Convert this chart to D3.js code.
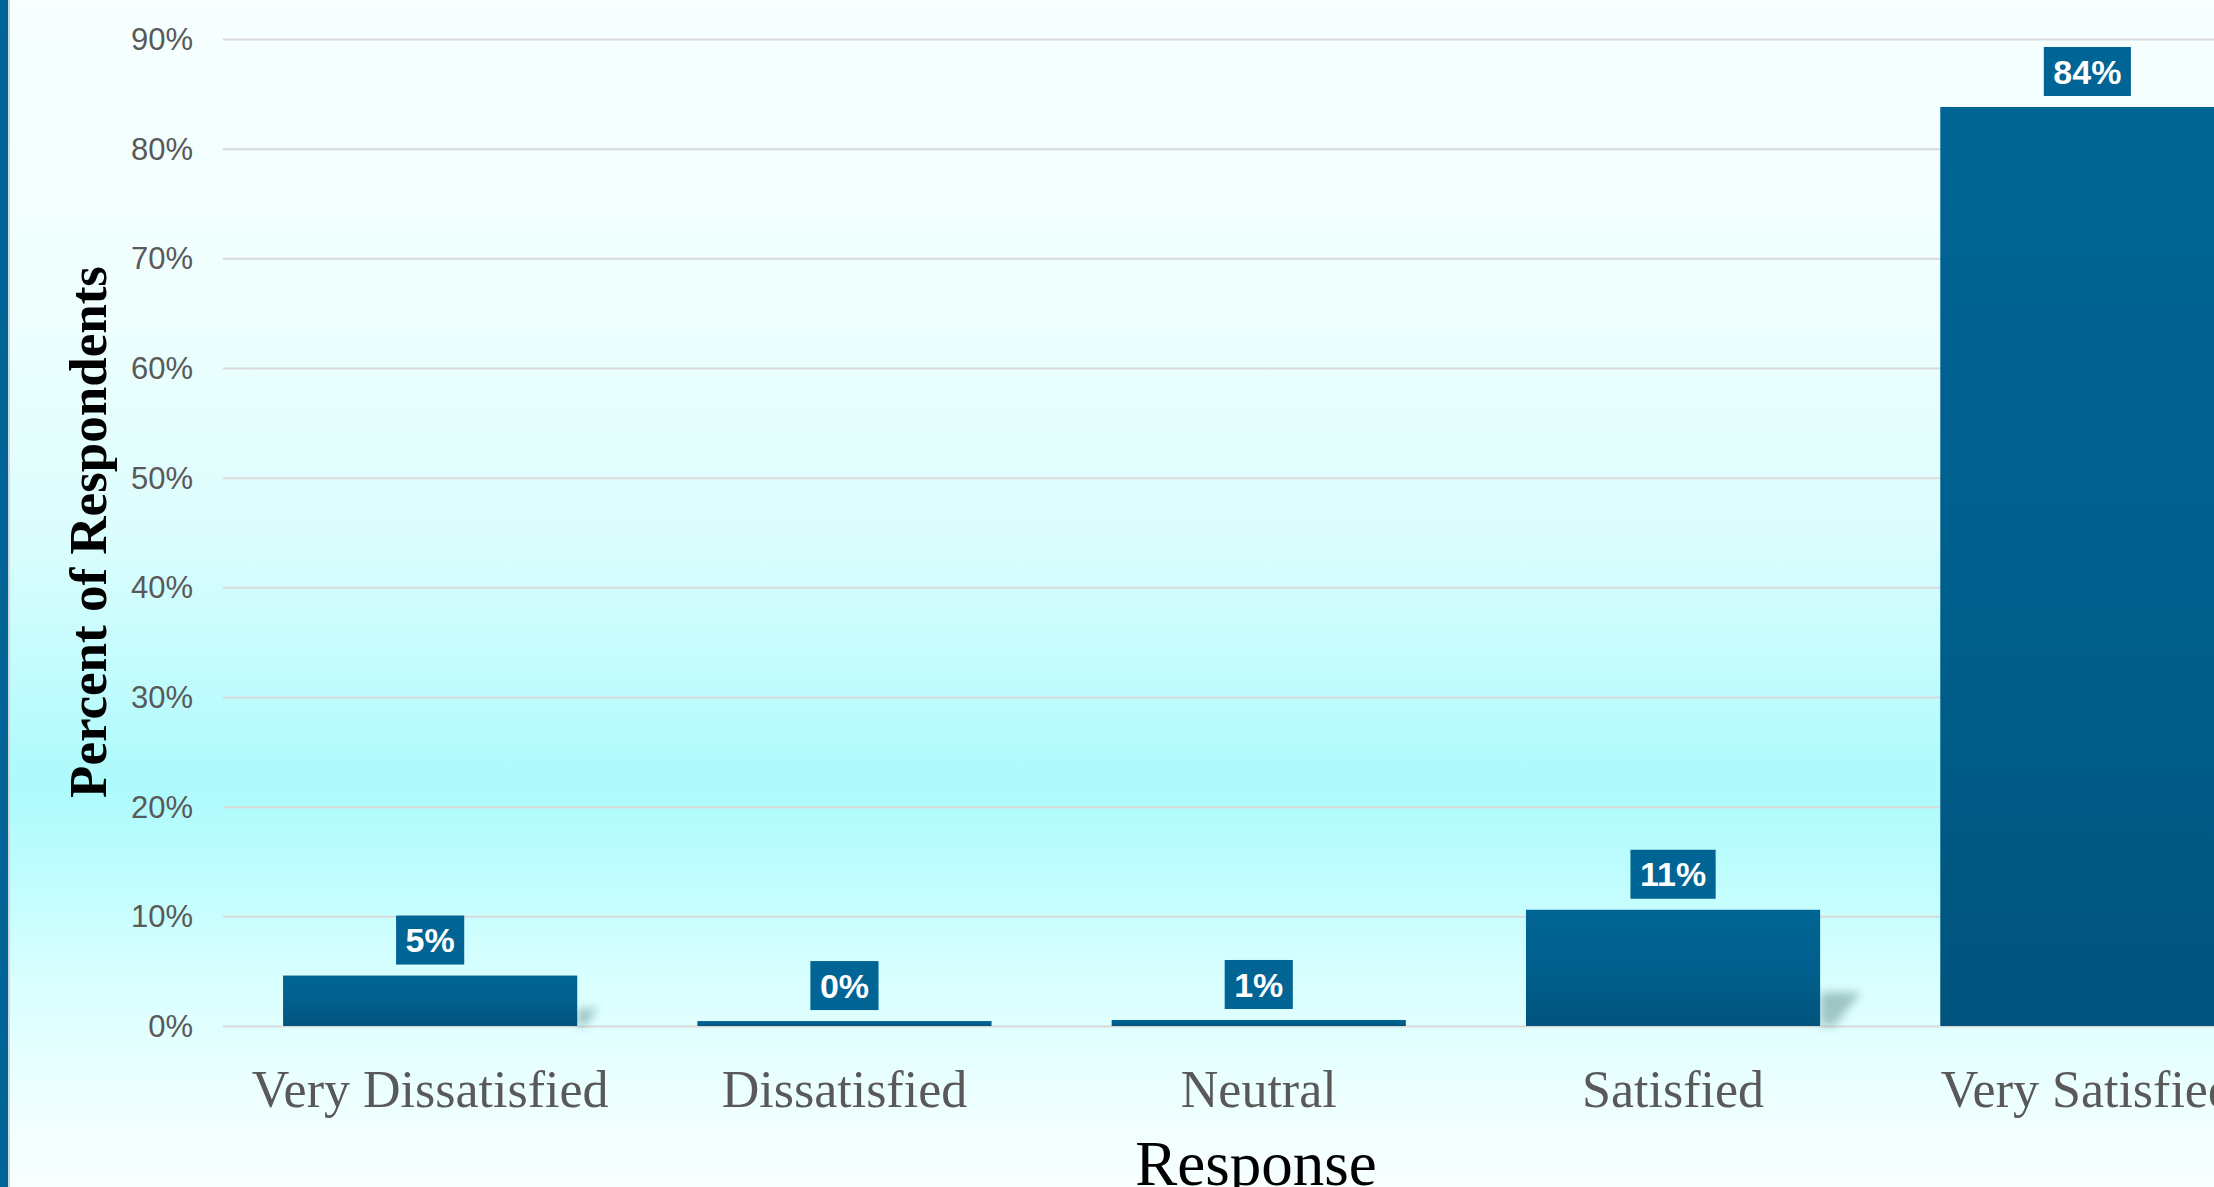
<!DOCTYPE html>
<html>
<head>
<meta charset="utf-8">
<script src="https://cdn.jsdelivr.net/npm/d3@7"></script>
<style>
  html, body { margin: 0; padding: 0; overflow: hidden; background: #f7ffff; }
  svg { display: block; }
</style>
</head>
<body>
<svg id="chart"></svg>
<script>
// Survey results: share of respondents per satisfaction level
const categories = ["Very Dissatisfied", "Dissatisfied", "Neutral", "Satisfied", "Very Satisfied"];
const percents = [4.6, 0.45, 0.55, 10.6, 83.8];
const yTicks = [0, 10, 20, 30, 40, 50, 60, 70, 80, 90];
const yTitle = "Percent of Respondents";
const xTitle = "Response";

const W = 2214, H = 1187;
const svg = d3.select("#chart").attr("width", W).attr("height", H);
const defs = svg.append("defs");

// background wash
const bg = defs.append("linearGradient").attr("id", "bgGrad")
  .attr("x1", 0).attr("y1", 0).attr("x2", 0).attr("y2", 1);
[[0, "#f7ffff"], [0.25, "#effffe"], [0.45, "#dcfdfd"], [0.56, "#c4fcfd"], [0.66, "#adfafc"],
 [0.74, "#c0fdfe"], [0.82, "#d8ffff"], [0.9, "#e8ffff"], [0.96, "#f3ffff"], [1, "#f8ffff"]]
  .forEach(([o, c]) => bg.append("stop").attr("offset", o).attr("stop-color", c));

// bar fill
const barGrad = defs.append("linearGradient").attr("id", "barGrad")
  .attr("x1", 0).attr("y1", 0).attr("x2", 0).attr("y2", 1);
barGrad.append("stop").attr("offset", 0).attr("stop-color", "#006494");
barGrad.append("stop").attr("offset", 0.55).attr("stop-color", "#005f8c");
barGrad.append("stop").attr("offset", 1).attr("stop-color", "#00547d");

const blur = defs.append("filter").attr("id", "soft")
  .attr("x", "-50%").attr("y", "-50%").attr("width", "200%").attr("height", "200%");
blur.append("feGaussianBlur").attr("stdDeviation", 5);

svg.append("rect").attr("width", W).attr("height", H).attr("fill", "url(#bgGrad)");
svg.append("rect").attr("x", 0).attr("y", 0).attr("width", 8).attr("height", H).attr("fill", "#006496");
svg.append("rect").attr("x", 8).attr("y", 0).attr("width", 2).attr("height", H).attr("fill", "#cfd9dc");

// scales
const plotLeft = 223;
const step = 414.3;
const x = d3.scaleBand().domain(categories)
  .range([plotLeft, plotLeft + step * categories.length])
  .paddingInner(0.29).paddingOuter(0.145);
const y = d3.scaleLinear().domain([0, 90]).range([1026, 39]);

// gridlines + tick labels
const yAxis = d3.axisLeft(y).tickValues(yTicks)
  .tickSize(-(W + 200 - plotLeft)).tickPadding(30)
  .tickFormat(d => d + "%");
const gy = svg.append("g").attr("transform", `translate(${plotLeft},0)`).call(yAxis);
gy.select(".domain").remove();
gy.selectAll(".tick line").attr("stroke", "#d9d9d9").attr("stroke-width", 2);
gy.selectAll(".tick text")
  .attr("font-family", "'Liberation Sans', Arial, sans-serif")
  .attr("font-size", 31).attr("fill", "#595959").attr("dy", "0.34em");

// bar shadows
const shadowG = svg.append("g");
categories.forEach((c, i) => {
  const h = y(0) - y(percents[i]);
  if (h < 10) return;
  const sh = 0.25 * h + 5;
  const sw = sh * 1.2;
  const r = x(c) + x.bandwidth();
  const b = y(0);
  shadowG.append("path")
    .attr("d", `M${r},${b} L${r},${b - sh} L${r + sw},${b - sh} L${r + sw * 0.35},${b} Z`)
    .attr("fill", "#5f8a8c").attr("opacity", 0.5).attr("filter", "url(#soft)");
});

// bars
svg.append("g").selectAll("rect").data(categories).join("rect")
  .attr("x", d => x(d))
  .attr("y", (d, i) => y(percents[i]))
  .attr("width", x.bandwidth())
  .attr("height", (d, i) => y(0) - y(percents[i]))
  .attr("fill", "url(#barGrad)");

// value labels in boxes
const fmt = v => d3.format(".0f")(v) + "%";
const lab = svg.append("g");
categories.forEach((c, i) => {
  const cx = x(c) + x.bandwidth() / 2;
  const boxBottom = y(percents[i]) - 11;
  const boxH = 49;
  const g = lab.append("g");
  const rect = g.append("rect").attr("fill", "#006494");
  const t = g.append("text")
    .attr("x", cx).attr("y", boxBottom - boxH / 2)
    .attr("dy", "0.36em")
    .attr("text-anchor", "middle")
    .attr("font-family", "'Liberation Sans', Arial, sans-serif")
    .attr("font-weight", "bold").attr("font-size", 34).attr("fill", "#ffffff")
    .text(fmt(percents[i]));
  const tw = t.node().getComputedTextLength();
  const bw = tw + 19;
  rect.attr("x", cx - bw / 2).attr("y", boxBottom - boxH).attr("width", bw).attr("height", boxH);
});

// category labels
const xAxis = d3.axisBottom(x).tickSize(0).tickPadding(0);
const gx = svg.append("g").attr("transform", `translate(0,${y(0)})`).call(xAxis);
gx.select(".domain").remove();
gx.selectAll(".tick text")
  .attr("y", 81).attr("dy", 0)
  .attr("font-family", "'Liberation Serif', 'Times New Roman', serif")
  .attr("font-size", 52).attr("fill", "#595959");

// axis titles
svg.append("text")
  .attr("transform", `translate(106,532) rotate(-90)`)
  .attr("text-anchor", "middle")
  .attr("font-family", "'Liberation Serif', 'Times New Roman', serif")
  .attr("font-weight", "bold").attr("font-size", 53).attr("fill", "#000")
  .text(yTitle);

svg.append("text")
  .attr("x", 1256).attr("y", 1185)
  .attr("text-anchor", "middle")
  .attr("font-family", "'Liberation Serif', 'Times New Roman', serif")
  .attr("font-size", 63).attr("fill", "#000")
  .text(xTitle);
</script>
</body>
</html>
